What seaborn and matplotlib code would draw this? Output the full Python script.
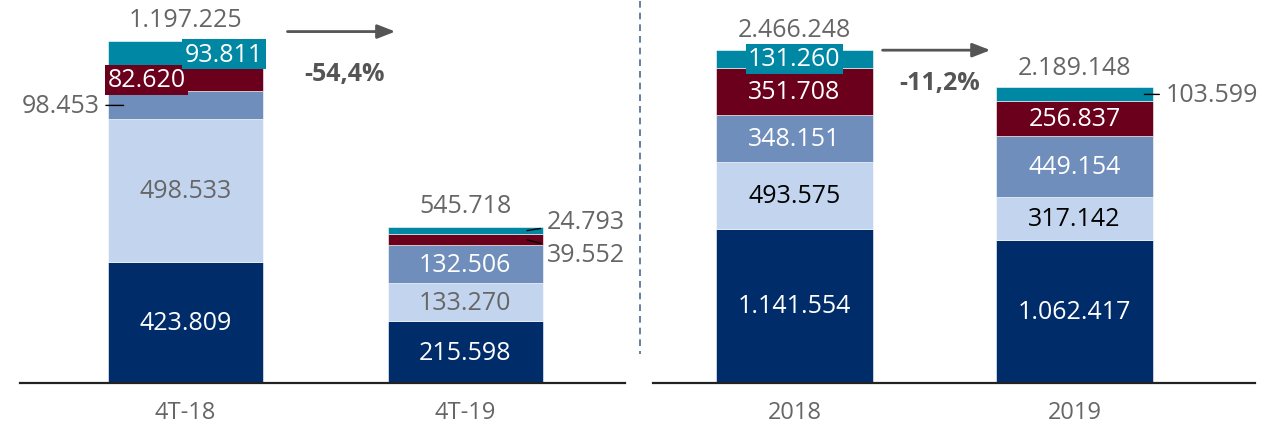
import matplotlib
matplotlib.use("Agg")
import matplotlib.pyplot as plt
import seaborn as sns
import pandas as pd
from matplotlib.lines import Line2D

# data (bottom -> top)
left_cats = ["4T-18", "4T-19"]
right_cats = ["2018", "2019"]
left_vals = [
    [423809, 215598],
    [498533, 133270],
    [98453, 132506],
    [82620, 39552],
    [93811, 24793],
]
right_vals = [
    [1141554, 1062417],
    [493575, 317142],
    [348151, 449154],
    [351708, 256837],
    [131260, 103599],
]
left_totals = [1197225, 545718]
right_totals = [2466248, 2189148]
left_change = "-54,4%"
right_change = "-11,2%"

colors = ["#002C6A", "#C3D5EE", "#6F8EBB", "#6B001C", "#0087A3"]
GRAY = "#666666"

sns.set_theme(style="white")
plt.rcParams["font.family"] = ["Open Sans", "DejaVu Sans"]

fig = plt.figure(figsize=(12.79, 4.27), dpi=100)
W, H = 1279, 427
ax1 = fig.add_axes([20 / W, 43 / H, 605 / W, 384 / H])
ax2 = fig.add_axes([653 / W, 43 / H, 602 / W, 384 / H])


def fmt(v):
    return f"{v:,}".replace(",", ".")


def draw(ax, cats, vals, width):
    bottom = [0] * len(cats)
    bottoms = []
    for i, layer in enumerate(vals):
        df = pd.DataFrame({"cat": cats, "val": layer})
        sns.barplot(data=df, x="cat", y="val", color=colors[i], saturation=1,
                    width=width, bottom=bottom, ax=ax,
                    edgecolor="white", linewidth=0.4)
        bottoms.append(list(bottom))
        bottom = [b + v for b, v in zip(bottom, layer)]
    return bottoms


lb = draw(ax1, left_cats, left_vals, 0.555)
rb = draw(ax2, right_cats, right_vals, 0.56)

ax1.set_xlim(-0.59, 1.57)
ax1.set_ylim(0, 1344000)
ax2.set_xlim(-0.505, 1.645)
ax2.set_ylim(0, 2844000)

for ax in (ax1, ax2):
    ax.set_xlabel("")
    ax.set_ylabel("")
    ax.set_yticks([])
    for s in ["top", "right", "left"]:
        ax.spines[s].set_visible(False)
    ax.spines["bottom"].set_color("#222222")
    ax.spines["bottom"].set_linewidth(1.6)
    ax.tick_params(axis="x", length=0, pad=12, labelsize=17, labelcolor=GRAY)
    ax.patch.set_alpha(0)

fs = 18


def mid(b, v):
    return b + v / 2


# ---- left panel labels ----
# 4T-18
ax1.text(0, mid(lb[0][0], left_vals[0][0]), fmt(left_vals[0][0]), ha="center", va="center", color="white", fontsize=fs)
ax1.text(0, mid(lb[1][0], left_vals[1][0]), fmt(left_vals[1][0]), ha="center", va="center", color=GRAY, fontsize=fs)
ax1.annotate(fmt(left_vals[2][0]), xy=(-0.22, mid(lb[2][0], left_vals[2][0])),
             xytext=(-0.305, mid(lb[2][0], left_vals[2][0])), ha="right", va="center",
             color=GRAY, fontsize=fs,
             arrowprops=dict(arrowstyle="-", color="black", lw=1, shrinkA=2, shrinkB=0))
ax1.text(-0.138, mid(lb[3][0], left_vals[3][0]), fmt(left_vals[3][0]), ha="center", va="center", color="white", fontsize=fs,
         bbox=dict(boxstyle="square,pad=0.1", fc=colors[3], ec="none"))
ax1.text(0.138, mid(lb[4][0], left_vals[4][0]), fmt(left_vals[4][0]), ha="center", va="center", color="white", fontsize=fs,
         bbox=dict(boxstyle="square,pad=0.1", fc=colors[4], ec="none"))
# 4T-19
ax1.text(1, mid(lb[0][1], left_vals[0][1]), fmt(left_vals[0][1]), ha="center", va="center", color="white", fontsize=fs)
ax1.text(1, mid(lb[1][1], left_vals[1][1]), fmt(left_vals[1][1]), ha="center", va="center", color=GRAY, fontsize=fs)
ax1.text(1, mid(lb[2][1], left_vals[2][1]), fmt(left_vals[2][1]), ha="center", va="center", color="white", fontsize=fs)
ax1.annotate(fmt(left_vals[3][1]), xy=(1.22, mid(lb[3][1], left_vals[3][1])),
             xytext=(1.29, lb[3][1] - 33000), ha="left", va="center", color=GRAY, fontsize=fs,
             arrowprops=dict(arrowstyle="-", color="black", lw=1, shrinkA=2, shrinkB=0))
ax1.annotate(fmt(left_vals[4][1]), xy=(1.22, mid(lb[4][1], left_vals[4][1])),
             xytext=(1.29, left_totals[1] + 20000), ha="left", va="center", color=GRAY, fontsize=fs,
             arrowprops=dict(arrowstyle="-", color="black", lw=1, shrinkA=2, shrinkB=0))
for i, t in enumerate(left_totals):
    ax1.text(i, t + 75000, fmt(t), ha="center", va="center", color=GRAY, fontsize=fs)

# arrow + change
ax1.annotate("", xy=(0.76, 1230000), xytext=(0.355, 1230000),
             arrowprops=dict(arrowstyle="-|>,head_length=0.9,head_width=0.35", color="#555555", lw=2))
ax1.text(0.57, 1085000, left_change, ha="center", va="center", color="#555555", fontsize=fs, fontweight="bold")

# ---- right panel labels ----
rcol = [["white", "black", "white", "white", "white"], ["white", "black", "white", "white", None]]
for j in range(2):
    for i in range(5):
        c = rcol[j][i]
        if c is None:
            continue
        kw = {}
        if j == 0 and i == 4:
            kw["bbox"] = dict(boxstyle="square,pad=0.1", fc=colors[4], ec="none")
        ax2.text(j, mid(rb[i][j], right_vals[i][j]), fmt(right_vals[i][j]), ha="center", va="center",
                 color=c, fontsize=fs, **kw)
ax2.annotate(fmt(right_vals[4][1]), xy=(1.25, mid(rb[4][1], right_vals[4][1])),
             xytext=(1.325, mid(rb[4][1], right_vals[4][1])), ha="left", va="center", color=GRAY, fontsize=fs,
             arrowprops=dict(arrowstyle="-", color="black", lw=1, shrinkA=2, shrinkB=0))
for i, t in enumerate(right_totals):
    ax2.text(i, t + 150000, fmt(t), ha="center", va="center", color=GRAY, fontsize=fs)

ax2.annotate("", xy=(0.71, 2465000), xytext=(0.305, 2465000),
             arrowprops=dict(arrowstyle="-|>,head_length=0.9,head_width=0.35", color="#555555", lw=2))
ax2.text(0.52, 2225000, right_change, ha="center", va="center", color="#555555", fontsize=fs, fontweight="bold")

# dashed separator
fig.add_artist(Line2D([640 / W, 640 / W], [1 - 2 / H, 1 - 355 / H], transform=fig.transFigure,
                      color="#4A6A92", lw=1.2, ls=(0, (4, 3))))

fig.savefig("out.png", dpi=100)
